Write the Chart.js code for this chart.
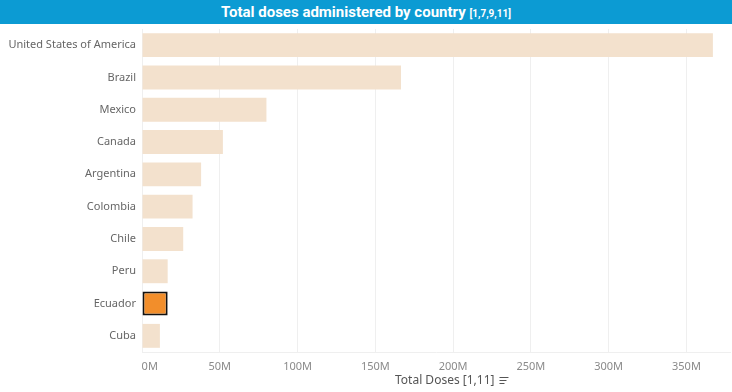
<!DOCTYPE html>
<html>
<head>
<meta charset="utf-8">
<script src="https://cdn.jsdelivr.net/npm/chart.js@4"></script>
<style>
  body { margin: 0; background: #fff; }
  #wrap { position: relative; width: 732px; height: 392px; }
  #header {
    position: absolute; left: 0; top: 0; width: 732px; height: 24px;
    background: #0c9bd3; color: #fff; text-align: center;
    font-family: "Liberation Sans Narrow", "Roboto", sans-serif; font-weight: bold;
    font-size: 15px; line-height: 24px;
  }
  #header small { font-size: 10px; }
</style>
</head>
<body>
<div id="wrap">
  <canvas id="chart" width="732" height="392"></canvas>
  <div id="header">Total doses administered by country <small>[1,7,9,11]</small></div>
</div>
<script>
const countries = ["United States of America", "Brazil", "Mexico", "Canada", "Argentina",
  "Colombia", "Chile", "Peru", "Ecuador", "Cuba"];
const totalDoses = [367, 166.5, 80, 52, 38, 32.5, 26.5, 16.5, 16.5, 11.5]; // millions
const highlighted = "Ecuador";
const xTicks = [0, 50, 100, 150, 200, 250, 300, 350];

const barColors = countries.map(c => c === highlighted ? "#f28e2b" : "#f3e1cd");
const borderWidths = countries.map(c => c === highlighted ? 2 : 0);

const axisTitle = {
  id: "axisTitle",
  afterDraw(chart) {
    const ctx = chart.ctx;
    const text = "Total Doses [1,11]";
    ctx.save();
    ctx.font = "12px 'Noto Sans', sans-serif";
    ctx.fillStyle = "#555";
    ctx.textBaseline = "middle";
    const w = ctx.measureText(text).width;
    const x = 395;
    const y = 381;
    ctx.fillText(text, x, y);
    // sort icon
    ctx.strokeStyle = "#555";
    ctx.lineWidth = 1;
    const ix = x + w + 5;
    [9, 7, 5].forEach((len, i) => {
      ctx.beginPath();
      ctx.moveTo(ix, y - 4 + i * 3 + 0.5);
      ctx.lineTo(ix + len, y - 4 + i * 3 + 0.5);
      ctx.stroke();
    });
    ctx.restore();
  }
};

new Chart(document.getElementById("chart"), {
  type: "bar",
  data: {
    labels: countries,
    datasets: [{
      data: totalDoses,
      backgroundColor: barColors,
      borderColor: "#111",
      borderWidth: borderWidths,
      borderSkipped: false,
      barPercentage: 0.74,
      categoryPercentage: 1
    }]
  },
  options: {
    indexAxis: "y",
    responsive: false,
    animation: false,
    layout: { padding: { top: 29, right: 2, bottom: 0, left: 0 } },
    plugins: { legend: { display: false }, tooltip: { enabled: false } },
    scales: {
      x: {
        min: 0,
        max: 378,
        afterBuildTicks(scale) {
          scale.ticks = xTicks.map(v => ({ value: v }));
        },
        afterFit(scale) { scale.height = 40; },
        grid: { color: "#efefef", drawTicks: false },
        border: { display: true, color: "#efefef" },
        ticks: {
          padding: 8,
          color: "#8a8a8a",
          font: { family: "'Noto Sans', sans-serif", size: 11 },
          // first label sits to the right of the zero line, as in the original
          callback: v => (v === 0 ? "\u2007\u2007 " : "") + v + "M"
        }
      },
      y: {
        afterFit(scale) { scale.width = 142; },
        grid: { display: false, drawTicks: false },
        border: { display: false },
        ticks: {
          padding: 6,
          color: "#666",
          font: { family: "'Noto Sans', sans-serif", size: 11 }
        }
      }
    }
  },
  plugins: [axisTitle]
});
</script>
</body>
</html>
